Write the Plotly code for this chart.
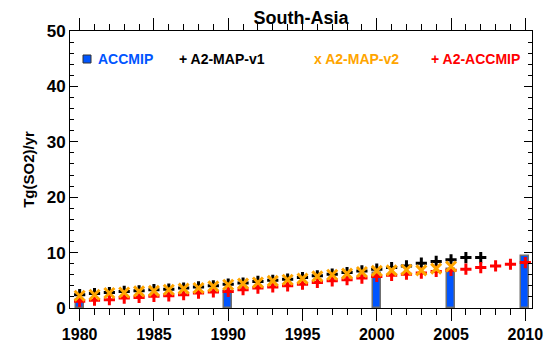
import plotly.graph_objects as go

bar_years = [1980, 1990, 2000, 2005, 2010]
accmip = [1.5, 3.1, 6.4, 7.1, 9.3]

v1_years = list(range(1980, 2008))
a2_map_v1 = [2.4, 2.6, 2.8, 3.0, 3.1, 3.3, 3.4, 3.6, 3.8, 4.0, 4.3, 4.5, 4.8, 5.0,
             5.2, 5.5, 5.8, 6.1, 6.4, 6.7, 7.0, 7.3, 7.6, 8.1, 8.4, 8.7, 9.1, 9.1]

v2_years = list(range(1980, 2006))
a2_map_v2 = [2.2, 2.4, 2.7, 2.8, 3.0, 3.1, 3.3, 3.5, 3.6, 3.9, 4.2, 4.4, 4.6, 4.9,
             5.1, 5.3, 5.7, 6.0, 6.2, 6.5, 6.7, 6.8, 6.9, 6.8, 7.1, 7.5]

acc_years = list(range(1980, 2011))
a2_accmip = [1.2, 1.4, 1.5, 1.8, 1.9, 2.1, 2.2, 2.4, 2.7, 2.9, 3.0, 3.3, 3.6, 3.8,
             4.0, 4.3, 4.6, 4.9, 5.1, 5.4, 5.7, 5.9, 6.1, 6.3, 6.6, 6.8, 7.0, 7.3,
             7.6, 7.9, 8.2]

x_ticks = [1980, 1985, 1990, 1995, 2000, 2005, 2010]
y_ticks = [0, 10, 20, 30, 40, 50]

FONT = "Liberation Sans"
BLUE = "#0055ff"
ORANGE = "#ffa500"
RED = "#ff0000"

# page body has an 8px margin; figure is sized to fill the rest of the window
W, H = 546, 335

fig = go.Figure()
fig.add_trace(go.Bar(x=bar_years, y=accmip, width=0.55,
                     marker=dict(color=BLUE, line=dict(color="#6f6f6f", width=1.5))))
fig.add_trace(go.Scatter(x=v1_years, y=a2_map_v1, mode="markers",
                         marker=dict(symbol="cross-thin", size=8,
                                     line=dict(color="black", width=3))))
fig.add_trace(go.Scatter(x=acc_years, y=a2_accmip, mode="markers",
                         marker=dict(symbol="cross-thin", size=8,
                                     line=dict(color=RED, width=3))))
fig.add_trace(go.Scatter(x=v2_years, y=a2_map_v2, mode="markers",
                         marker=dict(symbol="x-thin", size=10,
                                     line=dict(color=ORANGE, width=3))))

fig.update_layout(
    width=W, height=H,
    margin=dict(l=62, r=22, t=23, b=35),
    paper_bgcolor="white", plot_bgcolor="white",
    showlegend=False,
    font=dict(family=FONT, color="black"),
    title=dict(text="<b>South-Asia</b>", x=293 / W, xanchor="center",
               y=1 - 9.5 / H, yanchor="middle", font=dict(size=18, family=FONT)),
    bargap=0,
)
fig.update_xaxes(range=[1979.35, 2010.45], tickvals=x_ticks,
                 ticktext=[f"<b>{t}</b>" for t in x_ticks],
                 ticks="outside", ticklen=12, tickwidth=1, tickcolor="black",
                 minor=dict(dtick=1, tick0=1980, ticks="outside", ticklen=6, tickcolor="black"),
                 showline=True, linecolor="black", linewidth=1, mirror="ticks",
                 showgrid=False, zeroline=False, automargin=False,
                 tickfont=dict(size=16, family=FONT))
fig.update_yaxes(range=[0, 50], tickvals=y_ticks,
                 ticktext=[f"<b>{t}</b>" for t in y_ticks],
                 ticks="inside", ticklen=8, tickwidth=1, tickcolor="black",
                 minor=dict(dtick=2, tick0=0, ticks="inside", ticklen=4, tickcolor="black"),
                 showline=True, linecolor="black", linewidth=1, mirror="ticks",
                 showgrid=False, zeroline=False, automargin=False,
                 tickfont=dict(size=17, family=FONT),
                 title=dict(text="<b>Tg(SO2)/yr</b>", font=dict(size=15, family=FONT),
                            standoff=8))

ly = (308 - 59) / 277
fig.add_shape(type="rect", xref="paper", yref="paper",
              x0=(83 - 70) / 462, x1=(91 - 70) / 462,
              y0=ly - 4 / 277, y1=ly + 4 / 277,
              fillcolor=BLUE, line=dict(color="#333333", width=1))
legend_items = [("ACCMIP", BLUE, 96), ("+ A2-MAP-v1", "black", 177),
                ("x A2-MAP-v2", ORANGE, 312), ("+ A2-ACCMIP", RED, 429)]
for txt, col, px in legend_items:
    fig.add_annotation(text=f"<b>{txt}</b>", xref="paper", yref="paper",
                       x=(px - 70) / 462, y=ly, xanchor="left", yanchor="middle",
                       showarrow=False, font=dict(size=14, color=col, family=FONT))

fig.write_html("out.html")
